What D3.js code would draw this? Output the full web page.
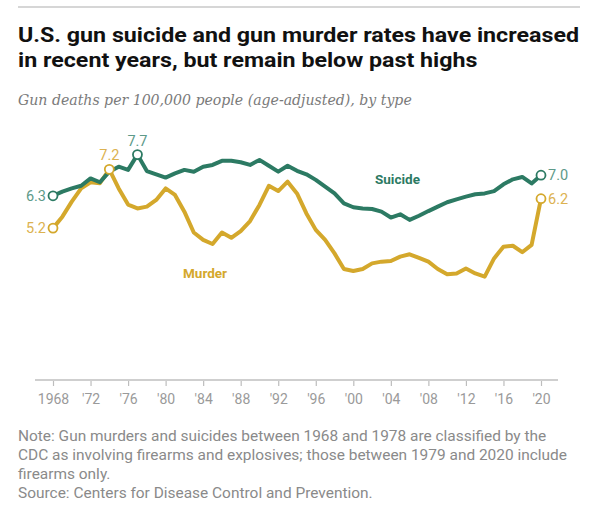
<!DOCTYPE html>
<html>
<head>
<meta charset="utf-8">
<script src="https://cdn.jsdelivr.net/npm/d3@7"></script>
<style>
  html, body { margin: 0; padding: 0; background: #fff; }
  svg { display: block; }
</style>
</head>
<body>
<svg id="chart" width="600" height="506"></svg>
<script>
const years = [1968,1969,1970,1971,1972,1973,1974,1975,1976,1977,1978,1979,1980,1981,1982,1983,1984,1985,1986,1987,1988,1989,1990,1991,1992,1993,1994,1995,1996,1997,1998,1999,2000,2001,2002,2003,2004,2005,2006,2007,2008,2009,2010,2011,2012,2013,2014,2015,2016,2017,2018,2019,2020];
const suicide = [6.3,6.44,6.55,6.64,6.89,6.76,7.12,7.29,7.18,7.7,7.14,7.03,6.92,7.06,7.18,7.12,7.29,7.35,7.49,7.49,7.44,7.35,7.52,7.32,7.12,7.32,7.15,7.03,6.84,6.61,6.38,6.04,5.91,5.87,5.85,5.76,5.56,5.67,5.48,5.62,5.78,5.93,6.08,6.18,6.27,6.35,6.38,6.46,6.69,6.86,6.94,6.72,7.0];
const murder = [5.2,5.59,6.1,6.55,6.76,6.73,7.2,6.55,6.0,5.87,5.93,6.16,6.55,6.33,5.76,5.05,4.8,4.66,5.05,4.87,5.1,5.44,5.99,6.64,6.46,6.78,6.38,5.7,5.14,4.8,4.34,3.81,3.74,3.81,4.0,4.06,4.08,4.23,4.31,4.19,4.06,3.81,3.63,3.66,3.83,3.66,3.55,4.17,4.57,4.6,4.38,4.63,6.2];
const tickYears = [1968,1972,1976,1980,1984,1988,1992,1996,2000,2004,2008,2012,2016,2020];
const seriesNames = ["Suicide", "Murder"];
const titleLines = ["U.S. gun suicide and gun murder rates have increased", "in recent years, but remain below past highs"];
const subtitle = "Gun deaths per 100,000 people (age-adjusted), by type";
const noteLines = [
  "Note: Gun murders and suicides between 1968 and 1978 are classified by the",
  "CDC as involving firearms and explosives; those between 1979 and 2020 include",
  "firearms only.",
  "Source: Centers for Disease Control and Prevention."
];
// labeled points: [seriesIndex, year, label, position]
const callouts = [
  [0, 1968, "6.3", "left"],
  [1, 1968, "5.2", "left"],
  [0, 1977, "7.7", "top"],
  [1, 1974, "7.2", "top"],
  [0, 2020, "7.0", "right"],
  [1, 2020, "6.2", "right"]
];

const GREEN = "#2c7a63", GOLD = "#d4a82c";
const GREEN_LT = "#5d9a89", GOLD_LT = "#dcb250";
const colors = [GREEN, GOLD];
const lightColors = [GREEN_LT, GOLD_LT];
const data = [suicide, murder];
const SANS = "Roboto, 'Liberation Sans', sans-serif";

const svg = d3.select("#chart");
svg.append("rect").attr("width", 600).attr("height", 506).attr("fill", "#fff");

// top rule
svg.append("line").attr("x1", 18).attr("x2", 580).attr("y1", 7).attr("y2", 7)
  .attr("stroke", "#d6d6d6").attr("stroke-width", 2);

function fitSize(sel, target) {
  const fs = parseFloat(sel.attr("font-size"));
  const w = sel.node().getComputedTextLength();
  return fs * target / w;
}

// title (stretched horizontally to match width, kept at a height that doesn't overlap)
const t1 = svg.append("text").attr("x", 18).attr("y", 42)
  .attr("font-family", SANS).attr("font-weight", 700)
  .attr("font-size", 20.5).attr("fill", "#111").text(titleLines[0]);
const w1 = t1.node().getComputedTextLength();
t1.attr("textLength", 561).attr("lengthAdjust", "spacingAndGlyphs");
const t2 = svg.append("text").attr("x", 18).attr("y", 67)
  .attr("font-family", SANS).attr("font-weight", 700)
  .attr("font-size", 20.5).attr("fill", "#111").text(titleLines[1]);
const w2 = t2.node().getComputedTextLength();
t2.attr("textLength", (w2 * 561 / w1).toFixed(1)).attr("lengthAdjust", "spacingAndGlyphs");

// subtitle
const st = svg.append("text").attr("x", 18).attr("y", 105)
  .attr("font-family", "'DejaVu Serif', 'Liberation Serif', serif").attr("font-style", "italic")
  .attr("font-size", 15).attr("fill", "#7a7a7a").text(subtitle);
st.attr("font-size", fitSize(st, 394).toFixed(2));

// scales
const x = d3.scaleLinear().domain([1968, 2020]).range([53, 541]);
const y = d3.scaleLinear().domain([0, 10]).range([381, 87]);

// axis
const axis = d3.axisBottom(x).tickValues(tickYears)
  .tickFormat(d => d === 1968 ? "1968" : "'" + String(d).slice(2))
  .tickSize(6).tickPadding(8);
const gAx = svg.append("g").attr("transform", "translate(0,380)").call(axis);
gAx.select(".domain").remove();
gAx.selectAll(".tick line").attr("stroke", "#bdbdbd").attr("stroke-width", 1.2);
gAx.selectAll(".tick text").attr("fill", "#9a9a9a")
  .attr("font-family", SANS).attr("font-size", 14);
gAx.append("line").attr("x1", 35).attr("x2", 558).attr("y1", 0).attr("y2", 0)
  .attr("stroke", "#cfcfcf").attr("stroke-width", 2);

// lines
const line = d3.line().x((d, i) => x(years[i])).y(d => y(d)).curve(d3.curveLinear);
[1, 0].forEach(s => {
  svg.append("path").datum(data[s]).attr("d", line)
    .attr("fill", "none").attr("stroke", colors[s]).attr("stroke-width", 4)
    .attr("stroke-linejoin", "round").attr("stroke-linecap", "round");
});

// series labels
svg.append("text").attr("x", 375).attr("y", 184)
  .attr("font-family", SANS).attr("font-weight", 700)
  .attr("font-size", 13.5).attr("fill", GREEN).text(seriesNames[0]);
svg.append("text").attr("x", 183).attr("y", 278)
  .attr("font-family", SANS).attr("font-weight", 700)
  .attr("font-size", 13.5).attr("fill", GOLD).text(seriesNames[1]);

// callouts
callouts.forEach(([s, yr, lab, pos]) => {
  const i = years.indexOf(yr);
  const cx = x(yr), cy = y(data[s][i]);
  svg.append("circle").attr("cx", cx).attr("cy", cy).attr("r", 4.5)
    .attr("fill", "#fff").attr("stroke", colors[s]).attr("stroke-width", 1.8);
  const t = svg.append("text")
    .attr("font-family", SANS)
    .attr("font-size", 14.5).attr("fill", lightColors[s]).text(lab);
  if (pos === "left") t.attr("x", cx - 7).attr("y", cy + 5).attr("text-anchor", "end");
  else if (pos === "right") t.attr("x", cx + 7).attr("y", cy + 5).attr("text-anchor", "start");
  else t.attr("x", cx).attr("y", cy - 9).attr("text-anchor", "middle");
});

// notes
const noteTexts = noteLines.map((l, k) => svg.append("text").attr("x", 18).attr("y", 441 + k * 19)
  .attr("font-family", SANS).attr("font-size", 12.5).attr("fill", "#8a8a8a").text(l));
const nfs = fitSize(noteTexts[1], 549).toFixed(2);
noteTexts.forEach(t => t.attr("font-size", nfs));
</script>
</body>
</html>
